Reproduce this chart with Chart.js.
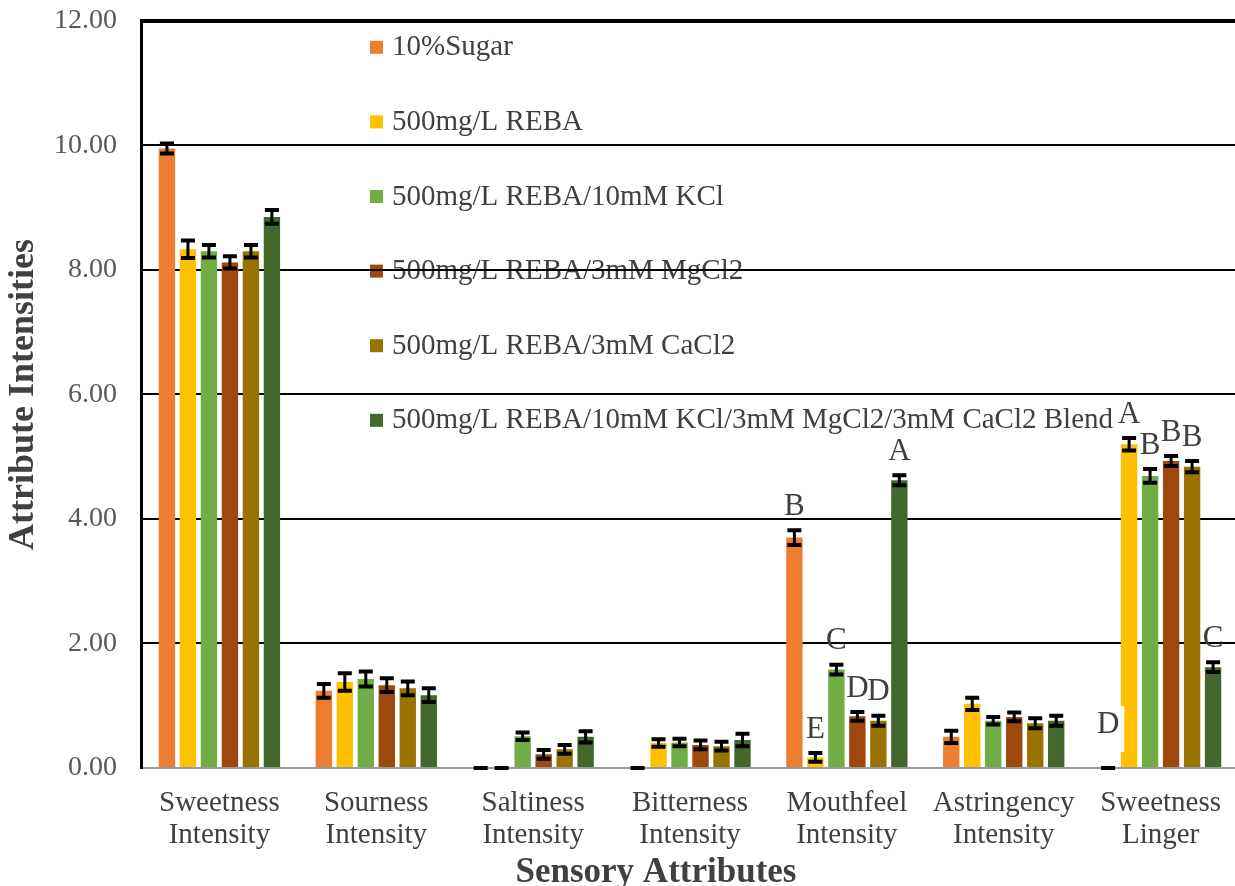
<!DOCTYPE html>
<html>
<head>
<meta charset="utf-8">
<script src="https://cdn.jsdelivr.net/npm/chart.js@4.4.1/dist/chart.umd.min.js"></script>
<style>
  html, body { margin: 0; padding: 0; background: #fff; overflow: hidden; }
  #sensoryChart { display: block; margin-top: -20px; }
</style>
</head>
<body>
<canvas id="sensoryChart" width="1240" height="906"></canvas>
<script>
// categories and tick labels
const attributes = [
  ['Sweetness', 'Intensity'], ['Sourness', 'Intensity'], ['Saltiness', 'Intensity'],
  ['Bitterness', 'Intensity'], ['Mouthfeel', 'Intensity'], ['Astringency', 'Intensity'],
  ['Sweetness', 'Linger']
];
const yTicks = [0, 2, 4, 6, 8, 10, 12];

const seriesNames = [
  '10%Sugar',
  '500mg/L REBA',
  '500mg/L REBA/10mM KCl',
  '500mg/L REBA/3mM MgCl2',
  '500mg/L REBA/3mM CaCl2',
  '500mg/L REBA/10mM KCl/3mM MgCl2/3mM CaCl2 Blend'
];

// mean intensities
const sugar = [9.95, 1.24, 0, 0, 3.70, 0.50, 0];
const reba  = [8.33, 1.38, 0, 0.40, 0.17, 1.03, 5.20];
const kcl   = [8.30, 1.43, 0.51, 0.41, 1.58, 0.76, 4.69];
const mgcl2 = [8.12, 1.33, 0.22, 0.37, 0.83, 0.82, 4.93];
const cacl2 = [8.30, 1.28, 0.30, 0.35, 0.76, 0.72, 4.84];
const blend = [8.85, 1.17, 0.50, 0.45, 4.62, 0.76, 1.62];

// standard errors
const sugarErr = [0.08, 0.11, 0, 0, 0.12, 0.10, 0];
const rebaErr  = [0.14, 0.14, 0, 0.06, 0.07, 0.10, 0.10];
const kclErr   = [0.10, 0.12, 0.06, 0.06, 0.08, 0.06, 0.11];
const mgcl2Err = [0.10, 0.11, 0.07, 0.07, 0.07, 0.07, 0.08];
const cacl2Err = [0.10, 0.11, 0.07, 0.07, 0.08, 0.08, 0.09];
const blendErr = [0.11, 0.11, 0.09, 0.10, 0.08, 0.08, 0.08];

// significance letters
const sugarSig = ['', '', '', '', 'B', '', 'D'];
const rebaSig  = ['', '', '', '', 'E', '', 'A'];
const kclSig   = ['', '', '', '', 'C', '', 'B'];
const mgcl2Sig = ['', '', '', '', 'D', '', 'B'];
const cacl2Sig = ['', '', '', '', 'D', '', 'B'];
const blendSig = ['', '', '', '', 'A', '', 'C'];

const colors = ['#ED7D31', '#FFC000', '#70AD47', '#9E480E', '#997300', '#43682B'];
const values = [sugar, reba, kcl, mgcl2, cacl2, blend];
const errors = [sugarErr, rebaErr, kclErr, mgcl2Err, cacl2Err, blendErr];
const letters = [sugarSig, rebaSig, kclSig, mgcl2Sig, cacl2Sig, blendSig];

const serif = '"Liberation Serif", "Times New Roman", serif';
const textColor = '#404040';

// legend drawn inside the plot, under the grid lines
const insideLegend = {
  id: 'insideLegend',
  beforeDraw(chart) {
    const { ctx, chartArea } = chart;
    ctx.save();
    ctx.font = '29px ' + serif;
    ctx.textBaseline = 'middle';
    chart.data.datasets.forEach((ds, i) => {
      const x = chartArea.left + 229;
      const y = chartArea.top + 26 + i * 74.6;
      ctx.fillStyle = ds.backgroundColor;
      ctx.fillRect(x, y - 6, 13, 13);
      ctx.fillStyle = textColor;
      ctx.fillText(ds.label, x + 22, y + 1);
    });
    ctx.restore();
  }
};

const errorBars = {
  id: 'errorBars',
  afterDatasetsDraw(chart) {
    const { ctx } = chart;
    const yScale = chart.scales.y;
    ctx.save();
    ctx.strokeStyle = '#000';
    chart.data.datasets.forEach((ds, di) => {
      const meta = chart.getDatasetMeta(di);
      meta.data.forEach((bar, i) => {
        const v = ds.data[i];
        const e = errors[di][i];
        const yTop = yScale.getPixelForValue(v + e);
        const yBot = yScale.getPixelForValue(Math.max(0, v - e));
        const half = 7;
        ctx.lineWidth = 3;
        ctx.beginPath();
        ctx.moveTo(bar.x, yTop);
        ctx.lineTo(bar.x, yBot);
        ctx.stroke();
        ctx.lineWidth = 4;
        ctx.beginPath();
        ctx.moveTo(bar.x - half, yTop);
        ctx.lineTo(bar.x + half, yTop);
        ctx.moveTo(bar.x - half, yBot);
        ctx.lineTo(bar.x + half, yBot);
        ctx.stroke();
      });
    });
    ctx.restore();
  }
};

const sigLetters = {
  id: 'sigLetters',
  afterDatasetsDraw(chart) {
    const { ctx } = chart;
    const yScale = chart.scales.y;
    ctx.save();
    ctx.font = '31px ' + serif;
    ctx.textAlign = 'center';
    ctx.textBaseline = 'bottom';
    chart.data.datasets.forEach((ds, di) => {
      const meta = chart.getDatasetMeta(di);
      meta.data.forEach((bar, i) => {
        const txt = letters[di][i];
        if (!txt) return;
        const v = ds.data[i];
        const yTop = yScale.getPixelForValue(v + errors[di][i]);
        if (v === 0) {
          const w = ctx.measureText(txt).width + 10;
          const yb = yTop - 28;
          ctx.fillStyle = '#fff';
          ctx.fillRect(bar.x - w / 2, yb - 34, w, 46);
          ctx.fillStyle = textColor;
          ctx.fillText(txt, bar.x, yb);
        } else {
          ctx.fillStyle = textColor;
          ctx.fillText(txt, bar.x, yTop - 8);
        }
      });
    });
    ctx.restore();
  }
};

const xTitle = {
  id: 'xTitle',
  afterDraw(chart) {
    const { ctx, chartArea } = chart;
    ctx.save();
    ctx.font = 'bold 35px ' + serif;
    ctx.fillStyle = textColor;
    ctx.textAlign = 'center';
    ctx.textBaseline = 'alphabetic';
    ctx.fillText('Sensory Attributes', chartArea.left + (chartArea.right - chartArea.left) * 0.469, chart.height - 4);
    ctx.restore();
  }
};

new Chart(document.getElementById('sensoryChart'), {
  type: 'bar',
  data: {
    labels: attributes,
    datasets: seriesNames.map((name, i) => ({
      label: name,
      data: values[i],
      backgroundColor: colors[i],
      borderWidth: 0,
      categoryPercentage: 0.803,
      barPercentage: 0.78
    }))
  },
  options: {
    responsive: false,
    animation: false,
    layout: { padding: { top: 2, right: 0, left: 0, bottom: 0 } },
    plugins: {
      legend: { display: false },
      tooltip: { enabled: false }
    },
    scales: {
      x: {
        grid: { display: false, drawTicks: false },
        border: { display: true, color: '#9a9a9a', width: 2 },
        ticks: {
          font: { family: serif, size: 29, lineHeight: 1.12 },
          color: textColor,
          padding: 19,
          maxRotation: 0,
          autoSkip: false
        },
        afterFit(scale) { scale.height = 118; }
      },
      y: {
        min: 0,
        max: 12,
        afterBuildTicks(scale) { scale.ticks = yTicks.map(v => ({ value: v })); },
        grid: {
          drawTicks: false,
          color: ctx => ctx.tick && ctx.tick.value === 0 ? '#9a9a9a' : '#000',
          lineWidth: ctx => ctx.tick && ctx.tick.value === 12 ? 4 : 2
        },
        border: { display: true, color: '#000', width: 3 },
        ticks: {
          font: { family: serif, size: 28 },
          color: '#595959',
          padding: 24,
          callback: v => Number(v).toFixed(2)
        },
        title: {
          display: true,
          text: 'Attribute Intensities',
          font: { family: serif, size: 36, weight: 'bold' },
          color: textColor,
          padding: { top: 2, bottom: 0 }
        },
        afterFit(scale) { scale.width = 141; }
      }
    }
  },
  plugins: [insideLegend, errorBars, sigLetters, xTitle]
});
</script>
</body>
</html>
